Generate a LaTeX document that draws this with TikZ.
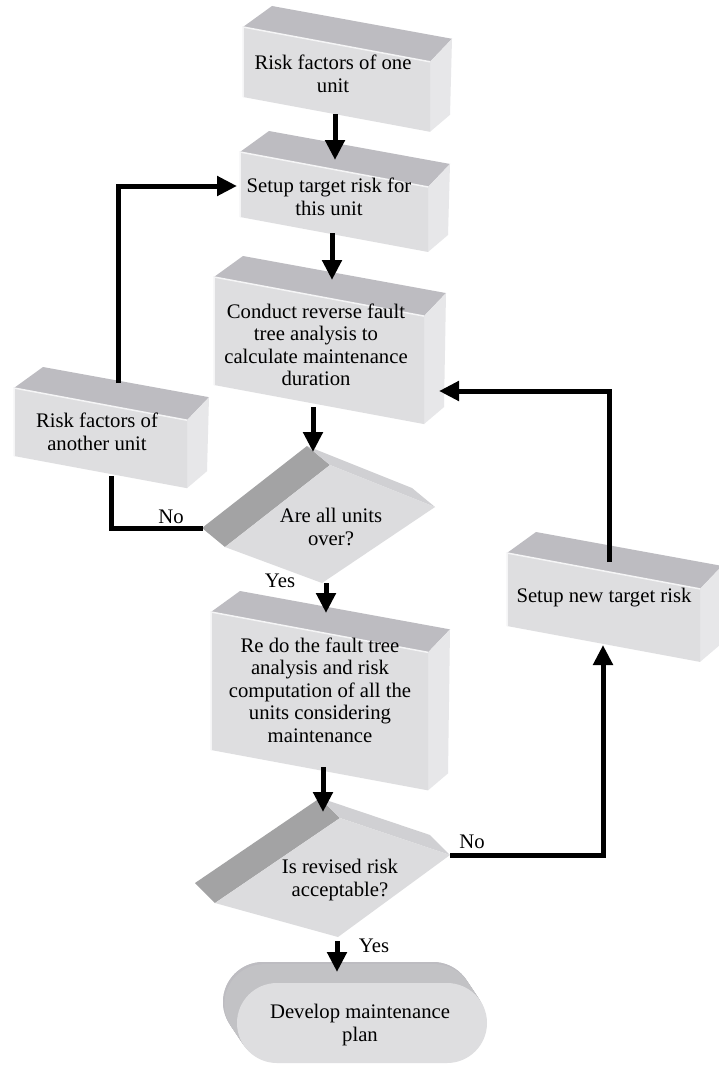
\documentclass[tikz,border=0pt]{standalone}
\usepackage{fontspec}
\setmainfont{Liberation Serif}
\usetikzlibrary{arrows.meta}
\definecolor{frontc}{HTML}{DEDEE0}
\definecolor{topc}{HTML}{BDBCC1}
\definecolor{sidec}{HTML}{E7E7E9}
\definecolor{darkc}{HTML}{A3A3A4}
\definecolor{bandc}{HTML}{D0D0D3}
\definecolor{mainc}{HTML}{DCDCDE}
\definecolor{termback}{HTML}{C2C2C5}
\newcommand{\perspbox}[4]{%
 \pgfmathsetmacro\xa{#1}\pgfmathsetmacro\ya{#2}%
 \pgfmathsetmacro\xb{#1+#3}\pgfmathsetmacro\yb{#2+0.186*#3}%
 \pgfmathsetmacro\yc{#2+#4}\pgfmathsetmacro\yd{#2+#4+0.186*#3}%
 \fill[topc] (\xa,\ya) -- ++(29,-21) -- (\xb+22,\yb-23) -- (\xb,\yb) -- cycle;
 \fill[sidec] (\xb,\yb) -- (\xb+22,\yb-23) -- (\xb+20,\yd-17) -- (\xb,\yd) -- cycle;
 \fill[frontc] (\xa,\ya) -- (\xb,\yb) -- (\xb,\yd) -- (\xa,\yc) -- cycle;
 \draw[white!70!frontc, line width=1.5] (\xa,\yc) -- (\xa,\ya) -- (\xb,\yb);
}
\newcommand{\slabdiamond}[9]{% Tx Ty Rx Ry Bx By Lx Ly e
 \fill[darkc] (#7,#8) -- (#1,#2) -- ++(#9) -- ($(#7,#8)+(#9)$) -- cycle;
 \fill[bandc] (#1,#2) -- ++(#9) -- ($(#3,#4)+(#9)$) -- (#3,#4) -- cycle;
 \fill[mainc] (#1,#2) -- (#3,#4) -- (#5,#6) -- (#7,#8) -- cycle;
}
\usetikzlibrary{calc}
\tikzset{
 txt/.style={align=center, inner sep=0pt, font=\fontsize{20.7}{22.5}\selectfont},
 lbl/.style={inner sep=0pt, font=\fontsize{20.7}{22.5}\selectfont},
 arr/.style={line width=5pt, line join=miter, -{Triangle[length=20pt,width=19pt]}},
 ln/.style={line width=5pt, line join=miter},
}
\begin{document}
\begin{tikzpicture}[x=1pt,y=-1pt]
\useasboundingbox (0,0) rectangle (719,1065);
\fill[white] (0,0) rectangle (719,1065);
% boxes
\perspbox{243}{27}{187}{70}
\perspbox{240}{152}{188}{65}
\perspbox{214}{277}{210}{108}
\perspbox{14}{388}{173}{68}
\perspbox{211}{612}{217}{138}
\perspbox{507}{553}{193}{73}
% diamonds
\slabdiamond{330}{465}{435}{507}{322}{583}{225}{547}{-23,-19}
\slabdiamond{340}{818}{450}{855}{338}{937}{215}{903}{-20,-20}
% terminal
\foreach \t in {1.0,0.9,...,0.05}{
 \fill[termback!90!white] ($(237,983)+\t*(-14,-21)$) [rounded corners=40pt] rectangle ++(250,80);
}
\fill[topc] (223,962) [rounded corners=40pt] rectangle ++(250,80);
\foreach \t in {0.9,0.8,...,0.05}{
 \fill[termback] ($(237,983)+\t*(-14,-21)$) [rounded corners=40pt] rectangle ++(250,80);
}
\fill[frontc] (237,983) [rounded corners=40pt] rectangle (487,1063);
% texts
\node[txt] (A) at (333,74) {Risk factors of one\\unit};
\node[txt] (B) at (329,197) {Setup target risk for\\this unit};
\node[txt] (C) at (316,345) {Conduct reverse fault\\tree analysis to\\calculate maintenance\\duration};
\node[txt] (D) at (97,432) {Risk factors of\\another unit};
\node[txt] (E) at (320,690) {Re do the fault tree\\analysis and risk\\computation of all the\\units considering\\maintenance};
\node[txt] (F) at (604,598) {Setup new target risk};
\node[txt] (Q1) at (331,527) {Are all units\\over?};
\node[txt] (Q2) at (340,880) {Is revised risk\\acceptable?};
\node[txt] (T) at (360,1025) {Develop maintenance\\plan};
\node[lbl] (no1) at (171,517) {No};
\node[lbl] (yes1) at (280,581) {Yes};
\node[lbl] (no2) at (472,842) {No};
\node[lbl] (yes2) at (374,946) {Yes};
% connector end points
\coordinate (a1) at (335,114); \coordinate (b1) at (335,160);
\coordinate (a2) at (332,233); \coordinate (b2) at (332,280);
\coordinate (a3) at (313,407); \coordinate (b3) at (313,452);
\coordinate (a4) at (326,583); \coordinate (b4) at (326,613);
\coordinate (a5) at (323,767); \coordinate (b5) at (323,812);
\coordinate (a6) at (337,941); \coordinate (b6) at (337,972);
\coordinate (q2r) at (450,855); \coordinate (fb) at (603,645);
\coordinate (ft) at (609,562); \coordinate (cr) at (439,391);
\coordinate (q1l) at (203,528); \coordinate (db) at (111,476);
\coordinate (dt) at (118,383); \coordinate (bl) at (237,186);
% connectors
\draw[arr] (a1) -- (b1);
\draw[arr] (a2) -- (b2);
\draw[arr] (a3) -- (b3);
\draw[arr] (a4) -- (b4);
\draw[arr] (a5) -- (b5);
\draw[arr] (a6) -- (b6);
\draw[arr] (q2r) -| (fb);
\draw[arr] (ft) |- (cr);
\draw[ln] (q1l) -| (db);
\draw[arr] (dt) |- (bl);
\end{tikzpicture}
\end{document}
